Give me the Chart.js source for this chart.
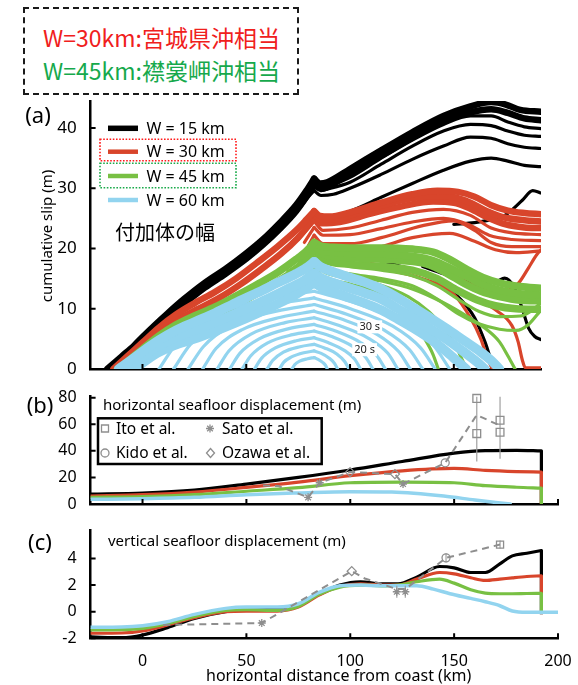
<!DOCTYPE html>
<html>
<head>
<meta charset="utf-8">
<title>cumulative slip and seafloor displacement</title>
<script src="https://cdn.jsdelivr.net/npm/chart.js@4.4.1/dist/chart.umd.min.js"></script>
<style>
  body { margin: 0; background: #fff; }
  #wrap { position: relative; width: 578px; height: 685px; overflow: hidden; }
  #wrap canvas { position: absolute; left: 0; }
  #note { position: absolute; left: 23px; top: 7px; width: 272px; height: 84px; border: 2px dashed #1a1a1a; }
  #note div { position: absolute; left: 18px; font: 23px/26px "Noto Sans CJK JP", sans-serif; white-space: nowrap; }
</style>
</head>
<body>
<div id="wrap">
  <div id="note">
    <div style="top:15px; color:#f0201c">W=30km:宮城県沖相当</div>
    <div style="top:48px; color:#16a94c">W=45km:襟裳岬沖相当</div>
  </div>
  <canvas id="slipChart" width="578" height="285" style="top:95px"></canvas>
  <canvas id="horizChart" width="578" height="130" style="top:385px"></canvas>
  <canvas id="vertChart" width="578" height="165" style="top:520px"></canvas>
</div>
<script>
const FONT = '"Noto Sans", "Liberation Sans", sans-serif';
const CJK = '"Noto Sans CJK JP", sans-serif';
const C15 = '#000000', C30 = '#d8452b', C45 = '#78c043', C60 = '#92d4ef', OBS = '#8e8e8e';

const legendLabels = ['W = 15 km', 'W = 30 km', 'W = 45 km', 'W = 60 km'];
const HYPO_KM = 82.7;   // kink where every snapshot peaks

// (a) cumulative slip snapshots, [km from coast, slip m]
const slipW15 = [
  [[-17,0],[-10,2.1],[-4,3.9],[0,5.3],[6,7.3],[12,9.2],[20,11.6],[30,14.3],[40,16.6],[50,19.2],[58,21.5],[66,24.2],[74,27.2],[79,29.6],[82.7,31.6],[85.5,30.8],[89,31],[100,33.2],[115,36.3],[130,39.3],[145,42],[158,43.6],[168,44.3],[175,43.9],[182,43],[192,42.7]],
  [[-15,0],[-8,2.2],[0,4.6],[6,6.5],[12,8.4],[20,10.8],[30,13.5],[40,15.8],[50,18.3],[58,20.6],[66,23.2],[74,26.2],[79,28.6],[82.7,30.6],[86,29.9],[95,31.4],[115,35.4],[130,38.4],[145,41.1],[158,42.6],[168,43.1],[176,42.5],[184,41.6],[192,41.3]],
  [[88,30],[100,31.8],[115,35],[130,38],[145,40.6],[158,42],[168,42],[176,41],[184,40.2],[192,39.9]],
  [[86,29.6],[100,31],[115,34],[130,37],[145,39.5],[158,40.6],[168,40.4],[176,39.5],[184,38.8],[192,38.6]],
  [[70,24.5],[76,26.8],[80,28.6],[82.7,29.6],[86,28.8],[92,29],[100,30],[115,32.3],[130,34.8],[145,37],[158,38.5],[168,38.3],[176,37.4],[184,36.8],[192,36.6]],
  [[88,25],[100,26.2],[115,28.5],[130,30.8],[145,33],[158,34.5],[168,35],[176,34.5],[184,33.8],[192,33.6]],
  [[150,24],[160,24.3],[168,24.8],[175,25.6],[183,28],[188,29.6],[192,29.2]],
  [[135,17],[145,15.8],[157,14.5],[170,14.5],[174.5,15.1],[179.4,13.4],[183,10],[186,6.8],[189,5.4],[192,4.9]],
  [[100,19.5],[120,17.5],[140,15],[152,12],[160,8.5],[165,4.5],[168,1.5],[170,0]]
];
const slipW30 = [
  [[-14,0],[-7,2.2],[0,4.4],[8,6.9],[16,9],[25,10.9],[35,12.8],[45,15],[55,17.6],[65,20.3],[74,23],[79,24.8],[82.7,26.2],[85.5,25.4],[90,25.3],[100,26],[115,27.6],[130,29],[142,29.6],[152,29.4],[160,28.6],[168,27.2],[176,26.3],[184,25.9],[192,25.7]],
  [[82.7,25.6],[86,24.8],[95,25],[110,26.6],[125,28],[140,28.7],[150,28.5],[158,27.6],[166,26.2],[175,25.1],[184,24.7],[192,24.5]],
  [[-11,0],[-4,2.2],[3,4.4],[10,6.5],[18,8.4],[27,10],[37,11.8],[47,14],[57,16.5],[67,19.2],[75,21.8],[79,23.4],[82.7,25.1],[86,24.2],[95,24.4],[110,25.8],[125,27],[140,27.8],[150,27.6],[158,26.6],[166,25.2],[175,24],[184,23.5],[192,23.4]],
  [[75,21.5],[82.7,24.5],[87,23],[100,23.4],[115,24.7],[130,26],[145,26.5],[158,25.5],[168,23.4],[178,22.6],[192,22.3]],
  [[78,21],[82.7,23.5],[87,22.2],[100,22.3],[115,23.3],[130,24.4],[145,25],[157,24],[167,22.2],[178,21.5],[192,21.3]],
  [[80,20.5],[82.7,22.2],[87,20.8],[100,20.8],[115,21.8],[135,23.8],[150,24.6],[160,23],[168,21],[178,20.3],[192,20.3]],
  [[84,20],[90,19.8],[110,20],[130,21.8],[148,22.5],[160,21.2],[170,19.8],[180,19.3],[192,19.6]],
  [[150,15.5],[165,13.2],[175,13],[181,14.2],[186,16.8],[190,19],[192,19.8]],
  [[110,17.5],[134,15.8],[150,13.5],[160,11.8],[171,9.6],[178,7.2],[181,4.5],[183,1.5],[184.5,0.2],[192,0.2]],
  [[110,17],[135,15],[150,12.4],[158,8.5],[163,5],[166,2],[168.5,0]]
];
const slipW45 = [
  [[-12,0],[-6,1.6],[0,3.3],[8,5.5],[16,7.3],[25,8.8],[35,10.3],[45,12.1],[55,14],[65,16],[74,18.2],[79,19.6],[82.7,21],[86,20.4],[92,20.2],[100,20.1],[115,20.1],[130,19.9],[140,19.4],[148,18.2],[156,16.6],[164,15.2],[172,14.3],[182,13.7],[192,13.4]],
  [[82.7,20.4],[86,19.6],[100,19.2],[115,19.1],[130,18.7],[140,18],[148,16.8],[156,15.4],[164,14],[172,13.1],[182,12.5],[192,12.3]],
  [[-9,0],[-3,1.6],[3,3.2],[10,4.9],[18,6.5],[27,7.9],[37,9.3],[47,11],[57,12.9],[67,14.9],[75,16.9],[82.7,19.8],[87,19],[95,18.6],[110,18.3],[125,18],[137,17.4],[146,16],[155,14.2],[163,12.9],[172,12],[182,11.4],[192,11.3]],
  [[85,18.5],[100,17.4],[115,17],[130,16.4],[142,15],[152,13],[161,11.5],[170,10.5],[180,10],[192,9.9]],
  [[70,16.2],[78,18],[82.7,19.2],[87,17.8],[100,17],[115,16.4],[130,15.5],[142,13.8],[152,11.6],[162,9.6],[172,8.7],[182,8.8],[188,9.8],[192,11]],
  [[72,16],[82.7,18.4],[87,16.8],[100,15.8],[115,15],[130,13.8],[142,11.6],[152,9.2],[162,7.5],[172,6.6],[180,6.4],[186,7.4],[192,9.8]],
  [[74,15.5],[82.7,16.8],[87,15.4],[100,14.1],[112,12.8],[122,10.6],[130,8],[136,5],[140,2.4],[142.5,0]],
  [[73,15.8],[82.7,17.6],[87,16.2],[100,15.1],[115,13.9],[128,12],[138,9.5],[146,6.5],[151,3.8],[154.5,1.2],[156.5,0]],
  [[72,16],[82.7,18],[87,16.5],[100,15.5],[115,14.6],[130,13.3],[145,11],[157,8.6],[166,6.5],[172,4.5],[176,2.2],[179.5,0]],
  [[-4,0],[3,2.5],[8,4.4],[20,7.2],[35,9.6],[50,12],[65,14.8],[75,16.8],[82.7,18.6]]
];
const slipW60 = [
  [[-11.5,0],[-5,1.6],[0,2.9],[8,4.8],[16,6.4],[25,7.8],[35,9.3],[45,11],[55,12.6],[65,14.3],[74,15.8],[79,16.8],[82.7,17.8],[86,16.9],[92,16.1],[100,15.2],[108,14.3],[115,13.3],[123,11.8],[131,10.1],[139,8.4],[147,6.6],[155,4.7],[163,2.8],[168,1.4],[172,0]],
  [[-8,0],[-2,1.6],[5,3.3],[12,4.6],[20,5.8],[30,7.1],[40,8.5],[50,10],[60,11.6],[70,13.3],[77,14.5],[82.7,15.9],[86,15.1],[92,14.3],[100,13.4],[108,12.5],[115,11.6],[123,10],[131,8.4],[139,6.6],[147,4.8],[155,2.8],[161,1.2],[165,0]],
  [[-4,0],[2,1.5],[8,2.8],[15,3.9],[25,5],[35,6.3],[45,7.7],[55,9.2],[65,10.8],[74,12.4],[82.7,14.3],[86,13.6],[92,12.8],[100,11.8],[108,10.8],[115,9.8],[123,8.3],[131,6.7],[139,4.9],[146,3],[152,1.2],[156,0]],
  [[8,0],[17,4.5],[34.1,8.8],[60.3,11.6],[82.7,12.9],[102.3,11],[125.1,7.7],[140.2,3.9],[148,0]],
  [[15,0],[23.1,4.1],[38.7,8],[62.4,10.6],[82.7,11.8],[100.2,10],[120.6,7.1],[134,3.5],[141,0]],
  [[22,0],[29.3,3.7],[43.2,7.3],[64.5,9.6],[82.7,10.7],[98.4,9.1],[116.7,6.4],[128.7,3.2],[135,0]],
  [[29,0],[35.4,3.4],[47.8,6.5],[66.6,8.6],[82.7,9.6],[96.6,8.2],[112.8,5.8],[123.4,2.9],[129,0]],
  [[36,0],[41.6,3],[52.3,5.8],[68.7,7.7],[82.7,8.5],[94.8,7.2],[108.9,5.1],[118.2,2.6],[123,0]],
  [[42,0],[46.9,2.6],[56.2,5],[70.5,6.7],[82.7,7.4],[93,6.3],[105,4.4],[112.9,2.2],[117,0]],
  [[48,0],[52.2,2.2],[60.1,4.3],[72.3,5.7],[82.7,6.3],[91.2,5.4],[101.1,3.8],[107.6,1.9],[111,0]],
  [[54,0],[57.4,1.8],[64,3.5],[74.1,4.7],[82.7,5.2],[89.4,4.4],[97.2,3.1],[102.3,1.6],[105,0]],
  [[60,0],[62.7,1.4],[67.9,2.8],[75.9,3.7],[82.7,4.1],[87.7,3.5],[93.6,2.5],[97.5,1.2],[99.5,0]],
  [[66,0],[68,1.1],[71.8,2],[77.7,2.7],[82.7,3],[86.1,2.6],[90,1.8],[92.6,0.9],[94,0]],
  [[72,0],[73.3,0.7],[75.7,1.3],[79.5,1.7],[82.7,1.9],[84.6,1.6],[86.8,1.1],[88.2,0.6],[89,0]]
];
const timeLabels = [['30 s', 109.5, 7], ['20 s', 107, 3.2]];

// (b) horizontal seafloor displacement (m)
const kmB = [-25, 0, 25, 50, 75, 100, 125, 150, 165, 180, 192];
const horizW15 = [7.5, 8.3, 10.5, 15, 20, 25.6, 32, 38.3, 40.2, 40.4, 40];
const horizW30 = [6, 7, 9, 12.5, 16.5, 21.3, 25, 26.8, 25.3, 24.4, 24];
const horizW45 = [5, 5.5, 7, 9.6, 12.3, 16, 16.5, 16, 13.8, 12.6, 12];
const kmB60 = [-25, 0, 25, 50, 75, 100, 120, 145, 160, 170, 177];
const horizW60 = [3.5, 4, 5, 7, 8.3, 9.3, 9, 6, 3, 1.2, 0];
const horizDrops = [[[192,40],[192,0]], [[192,24],[192,0]], [[192,12],[192,0]]];
const obsLineB = [[58,14],[65.4,13.5],[79.7,5],[85.3,16],[99.9,24],[121.5,22.5],[125.4,15],[145.7,31],[160.9,67],[172.1,59]];
const itoB = [[160.9,79.5],[160.9,53],[172.1,63],[172.1,54]];
const itoErrB = [[160.9,32,81],[172.1,34,81]];
const satoB = [[79.7,5],[85.3,16],[125.4,15]];
const kidoB = [[145.7,31]];
const ozawaB = [[99.9,24],[121.5,22.5]];

// (c) vertical seafloor displacement (m)
const kmC = [-25, -10, 0, 12, 25, 40, 50, 65, 75, 85, 95, 105, 115, 123, 132, 143, 150, 158, 165, 172, 178, 185, 192];
const vertW15 = [-1.9, -1.95, -1.75, -1.2, -0.5, 0, 0.15, 0.15, 0.5, 1.3, 2.0, 2.25, 2.1, 2.1, 2.6, 3.4, 3.3, 2.95, 2.95, 3.6, 4.2, 4.4, 4.6];
const vertW30 = [-1.62, -1.6, -1.45, -1.0, -0.45, 0, 0.05, 0.05, 0.35, 1.25, 1.9, 2.1, 2.0, 2.0, 2.45, 2.95, 2.85, 2.55, 2.35, 2.45, 2.55, 2.65, 2.7];
const vertW45 = [-1.37, -1.35, -1.25, -0.9, -0.35, 0.1, 0.15, 0.1, 0.4, 1.3, 1.85, 2.0, 1.95, 2.0, 2.25, 2.45, 2.15, 1.65, 1.4, 1.35, 1.35, 1.37, 1.38];
const kmC60 = [-25, -10, 0, 12, 25, 40, 50, 65, 75, 85, 95, 105, 115, 123, 132, 140, 148, 158, 165, 172, 178, 185, 192, 200];
const vertW60 = [-1.17, -1.15, -1.05, -0.75, -0.2, 0.25, 0.35, 0.35, 0.6, 1.45, 1.95, 2.0, 1.95, 1.95, 1.95, 1.7, 1.35, 1.0, 0.75, 0.45, 0.05, -0.05, -0.05, -0.05];
const vertDrops = [[[192,4.6],[192,-0.2]], [[192,2.7],[192,1.3]], [[192,1.38],[192,-0.1]]];
const obsLineC = [[10,-1.0],[57.4,-0.85],[100.7,3.05],[107,2.5],[122.4,1.7],[126.5,1.7],[146.1,4.05],[172.1,5.05]];
const itoC = [[172.1,5.05]];
const kidoC = [[146.1,4.05]];
const satoC = [[57.4,-0.85],[122.4,1.5],[126.5,1.5]];
const ozawaC = [[100.7,3.05]];
const errC = [[172.1,4.75,5.35],[146.1,3.7,4.4],[57.4,-1.0,-0.7],[122.4,1.05,1.95],[126.5,1.05,1.95]];

function pts(list) { return list.map(p => ({ x: p[0], y: p[1] })); }
function zip(xs, ys) { return xs.map((x, i) => ({ x: x, y: ys[i] })); }

function curve(data, color, width, order) {
  return { data: data, borderColor: color, borderWidth: width, pointRadius: 0, fill: false,
           cubicInterpolationMode: 'monotone', borderJoinStyle: 'round', borderCapStyle: 'round',
           order: order, clip: 0 };
}
function straight(data, color, width, order) {
  return { data: data, borderColor: color, borderWidth: width, pointRadius: 0, fill: false,
           tension: 0, order: order, clip: 0 };
}
function markers(data, style, radius) {
  return { data: data, showLine: false, pointStyle: style, pointRadius: radius, pointBorderWidth: 1.3,
           pointBorderColor: OBS, pointBackgroundColor: 'rgba(0,0,0,0)', order: 0, clip: false };
}
function errorBars(list) {
  return list.map(e => straight([{ x: e[0], y: e[1] }, { x: e[0], y: e[2] }], '#a0a0a0', 1.2, 0));
}
// each snapshot is split at the hypocentre kink so the peak stays sharp
function groupSets(lines, bands, color, bandWidth, order) {
  const sets = [];
  lines.forEach((l, i) => {
    const w = i < bands ? bandWidth : 3.2;
    const k = l.findIndex(p => p[0] === HYPO_KM);
    if (k > 0 && k < l.length - 1) {
      sets.push(curve(pts(l.slice(0, k + 1)), color, w, order));
      sets.push(curve(pts(l.slice(k)), color, w, order));
    } else {
      sets.push(curve(pts(l), color, w, order));
    }
  });
  return sets;
}

function axes(xMax, yMin, yMax, yStep, yLabelMax, xHeight, showX, fontSize) {
  const border = { display: true, width: 2.5, color: '#000' };
  return {
    x: { type: 'linear', min: -25, max: xMax, z: 1, border: border, grid: { display: false },
         ticks: { display: showX, stepSize: 50, includeBounds: false, color: '#000', padding: 6,
                  maxRotation: 0, autoSkip: false, font: { family: FONT, size: 16 } },
         afterFit: s => { s.height = xHeight; s.paddingLeft = 0; s.paddingRight = 0; } },
    y: { type: 'linear', min: yMin, max: yMax, z: 1, border: border, grid: { display: false },
         ticks: { stepSize: yStep, includeBounds: false, color: '#000', padding: 6, autoSkip: false,
                  font: { family: FONT, size: fontSize } },
         afterBuildTicks: s => { s.ticks = s.ticks.filter(t => t.value <= yLabelMax); },
         afterFit: s => { s.width = 90.6; s.paddingTop = 0; s.paddingBottom = 0; } }
  };
}

// tick marks point into the plot
const inwardTicks = {
  id: 'inwardTicks',
  afterDraw(chart) {
    const { ctx, chartArea: a, scales } = chart;
    ctx.save();
    ctx.strokeStyle = '#000';
    ctx.lineWidth = 2;
    ctx.beginPath();
    scales.x.ticks.forEach(t => {
      const px = scales.x.getPixelForValue(t.value);
      ctx.moveTo(px, a.bottom); ctx.lineTo(px, a.bottom - 5);
    });
    scales.y.ticks.forEach(t => {
      const py = scales.y.getPixelForValue(t.value);
      ctx.moveTo(a.left, py); ctx.lineTo(a.left + 5, py);
    });
    ctx.stroke();
    ctx.restore();
  }
};

const slipDeco = {
  id: 'slipDeco',
  afterDatasetsDraw(chart) {
    const { ctx, scales } = chart;
    ctx.save();
    ctx.font = '11px ' + FONT;
    ctx.textAlign = 'center';
    ctx.textBaseline = 'middle';
    timeLabels.forEach(l => {
      const x = scales.x.getPixelForValue(l[1]), y = scales.y.getPixelForValue(l[2]);
      const w = ctx.measureText(l[0]).width + 4;
      ctx.fillStyle = '#fff';
      ctx.fillRect(x - w / 2, y - 6.5, w, 13);
      ctx.fillStyle = '#222';
      ctx.fillText(l[0], x, y);
    });
    ctx.restore();
  },
  afterDraw(chart) {
    const ctx = chart.ctx;
    ctx.save();
    ctx.fillStyle = '#000';
    ctx.textBaseline = 'middle';
    ctx.textAlign = 'center';
    ctx.font = '22px ' + FONT;
    ctx.fillText('(a)', 38, 22);
    ctx.save();
    ctx.translate(48, 141);
    ctx.rotate(-Math.PI / 2);
    ctx.font = '15px ' + FONT;
    ctx.fillText('cumulative slip (m)', 0, 0);
    ctx.restore();

    const rows = [33.3, 56.7, 81, 105];
    const cols = [C15, C30, C45, C60];
    ctx.textAlign = 'left';
    ctx.font = '16px ' + FONT;
    legendLabels.forEach((label, i) => {
      ctx.strokeStyle = cols[i];
      ctx.lineWidth = i === 0 ? 5.5 : 4.5;
      ctx.beginPath(); ctx.moveTo(108, rows[i]); ctx.lineTo(138, rows[i]); ctx.stroke();
      ctx.fillStyle = '#000';
      ctx.fillText(label, 146.5, rows[i] + 1);
    });
    ctx.setLineDash([1.6, 1.6]);
    ctx.lineWidth = 1.6;
    ctx.strokeStyle = '#ff1a1a';
    ctx.strokeRect(100, 44.3, 136, 21.4);
    ctx.strokeStyle = '#1aaa4a';
    ctx.strokeRect(100, 68.3, 136, 24.4);
    ctx.setLineDash([]);
    ctx.font = '20px ' + CJK;
    ctx.fillStyle = '#000';
    ctx.fillText('付加体の幅', 115, 137);
    ctx.restore();
  }
};

function drawMarker(ctx, style, x, y) {
  ctx.beginPath();
  if (style === 'rect') ctx.rect(x - 3.5, y - 3.5, 7, 7);
  else if (style === 'circle') ctx.arc(x, y, 4, 0, Math.PI * 2);
  else if (style === 'rectRot') { ctx.moveTo(x, y - 4.5); ctx.lineTo(x + 4, y); ctx.lineTo(x, y + 4.5); ctx.lineTo(x - 4, y); ctx.closePath(); }
  else {
    for (let k = 0; k < 4; k++) {
      const a = k * Math.PI / 4;
      ctx.moveTo(x - 4 * Math.cos(a), y - 4 * Math.sin(a));
      ctx.lineTo(x + 4 * Math.cos(a), y + 4 * Math.sin(a));
    }
  }
  ctx.stroke();
}

const horizDeco = {
  id: 'horizDeco',
  afterDraw(chart) {
    const ctx = chart.ctx;
    ctx.save();
    ctx.fillStyle = '#000';
    ctx.textBaseline = 'middle';
    ctx.textAlign = 'center';
    ctx.font = '22px ' + FONT;
    ctx.fillText('(b)', 40, 22);
    ctx.textAlign = 'left';
    ctx.font = '15px ' + FONT;
    ctx.fillText('horizontal seafloor displacement (m)', 103, 21);
    ctx.fillStyle = '#fff';
    ctx.fillRect(98, 33.3, 223.7, 45.7);
    ctx.lineWidth = 2.5;
    ctx.strokeStyle = '#000';
    ctx.strokeRect(98, 33.3, 223.7, 45.7);
    const items = [['rect', 'Ito et al.', 105, 116, 43.5], ['star', 'Sato et al.', 210, 222, 43.5],
                   ['circle', 'Kido et al.', 105, 116, 68], ['rectRot', 'Ozawa et al.', 210.5, 222, 68]];
    ctx.font = '15.5px ' + FONT;
    items.forEach(it => {
      ctx.strokeStyle = OBS;
      ctx.lineWidth = 1.3;
      drawMarker(ctx, it[0], it[2], it[4]);
      ctx.fillStyle = '#000';
      ctx.fillText(it[1], it[3], it[4] + 1);
    });
    ctx.restore();
  }
};

const vertDeco = {
  id: 'vertDeco',
  afterDraw(chart) {
    const ctx = chart.ctx;
    ctx.save();
    ctx.fillStyle = '#000';
    ctx.textBaseline = 'middle';
    ctx.textAlign = 'center';
    ctx.font = '22px ' + FONT;
    ctx.fillText('(c)', 40, 24);
    ctx.textAlign = 'left';
    ctx.font = '15px ' + FONT;
    ctx.fillText('vertical seafloor displacement (m)', 108, 22);
    ctx.font = '16px ' + FONT;
    ctx.fillText('horizontal distance from coast (km)', 206, 156);
    ctx.restore();
  }
};

const base = { responsive: false, animation: false, events: [],
               plugins: { legend: { display: false }, tooltip: { enabled: false } } };

// (a)
const slipSets = [].concat(
  groupSets(slipW60, 3, C60, 9.5, 10),
  groupSets(slipW45, 4, C45, 7.5, 20),
  groupSets(slipW30, 3, C30, 6.5, 30),
  groupSets(slipW15, 2, C15, 6.5, 40)
);
new Chart(document.getElementById('slipChart'), {
  type: 'line',
  data: { datasets: slipSets },
  options: Object.assign({}, base, {
    layout: { padding: { left: 0, right: 37, top: 5.9, bottom: 0 } },
    scales: axes(192, 0, 44.5, 10, 40, 11, false, 17)
  }),
  plugins: [inwardTicks, slipDeco]
});

// (b)
const horizSets = [].concat(
  [straight(pts(obsLineB), OBS, 2, 0)],
  [markers(pts(itoB), 'rect', 5.5), markers(pts(satoB), 'star', 4),
   markers(pts(kidoB), 'circle', 4), markers(pts(ozawaB), 'rectRot', 4.5)],
  errorBars(itoErrB),
  [curve(zip(kmB60, horizW60), C60, 3.5, 10),
   curve(zip(kmB, horizW45), C45, 3.2, 20), straight(pts(horizDrops[2]), C45, 3.2, 20),
   curve(zip(kmB, horizW30), C30, 3.2, 30), straight(pts(horizDrops[1]), C30, 3.2, 30),
   curve(zip(kmB, horizW15), C15, 3.2, 40), straight(pts(horizDrops[0]), C15, 3.2, 40)]
);
horizSets[0].borderDash = [7, 5];
new Chart(document.getElementById('horizChart'), {
  type: 'line',
  data: { datasets: horizSets },
  options: Object.assign({}, base, {
    layout: { padding: { left: 0, right: 20, top: 11.4, bottom: 0 } },
    scales: axes(200, 0, 81, 20, 80, 11, false, 16)
  }),
  plugins: [inwardTicks, horizDeco]
});

// (c)
const vertSets = [].concat(
  [straight(pts(obsLineC), OBS, 2, 0)],
  [markers(pts(itoC), 'rect', 5), markers(pts(satoC), 'star', 4),
   markers(pts(kidoC), 'circle', 4), markers(pts(ozawaC), 'rectRot', 4.5)],
  errorBars(errC),
  [curve(zip(kmC60, vertW60), C60, 3.5, 10),
   curve(zip(kmC, vertW45), C45, 3.2, 20), straight(pts(vertDrops[2]), C45, 3.2, 20),
   curve(zip(kmC, vertW30), C30, 3.2, 30), straight(pts(vertDrops[1]), C30, 3.2, 30),
   curve(zip(kmC, vertW15), C15, 3.2, 40), straight(pts(vertDrops[0]), C15, 3.2, 40)]
);
vertSets[0].borderDash = [7, 5];
new Chart(document.getElementById('vertChart'), {
  type: 'line',
  data: { datasets: vertSets },
  options: Object.assign({}, base, {
    layout: { padding: { left: 0, right: 20, top: 10.6, bottom: 0 } },
    scales: axes(200, -2, 6.1, 2, 4, 46.7, true, 16)
  }),
  plugins: [inwardTicks, vertDeco]
});
</script>
</body>
</html>
